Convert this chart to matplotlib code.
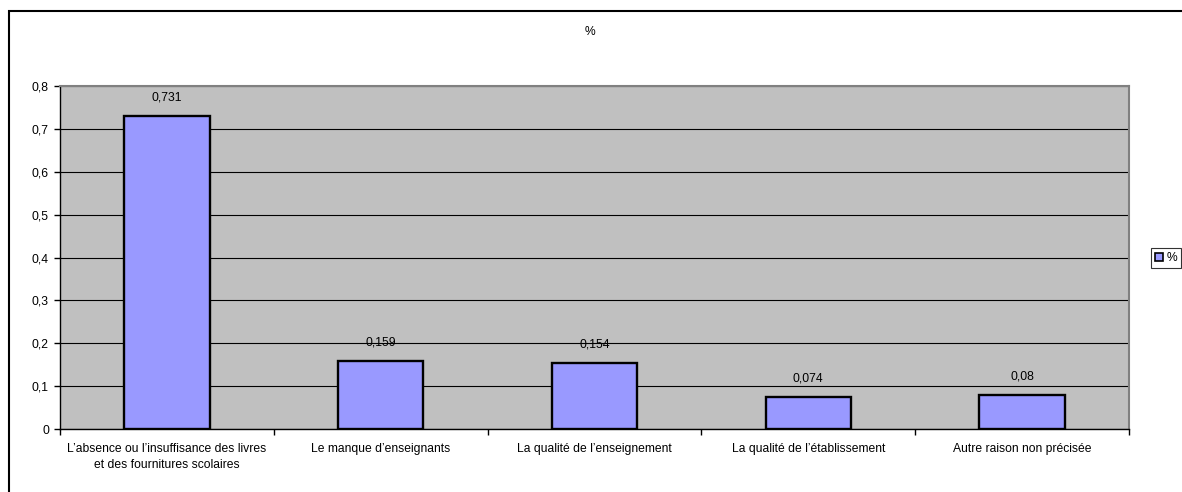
import matplotlib
matplotlib.use("Agg")
import matplotlib.pyplot as plt
from matplotlib.patches import Rectangle, Patch
from matplotlib.ticker import FuncFormatter

categories = ["L\u2019absence ou l\u2019insuffisance des livres\net des fournitures scolaires",
              "Le manque d\u2019enseignants",
              "La qualit\u00e9 de l\u2019enseignement",
              "La qualit\u00e9 de l\u2019\u00e9tablissement",
              "Autre raison non pr\u00e9cis\u00e9e"]
values = [0.731, 0.159, 0.154, 0.074, 0.08]
value_labels = ["0,731", "0,159", "0,154", "0,074", "0,08"]
series_name = "%"

FS = 8.7
plt.rcParams['font.family'] = ['Liberation Sans', 'DejaVu Sans']
W, H = 1182, 492
fig = plt.figure(figsize=(W/100, H/100), dpi=100)
fig.patch.set_facecolor('white')

# outer chart border
fig.patches.append(Rectangle((9/W, -0.2), 1.5, (H-11)/H + 0.2, transform=fig.transFigure,
                             fill=False, edgecolor='black', linewidth=1.5))

ax = fig.add_axes([60/W, (H-429)/H, (1129-60)/W, (429-86)/H])
ax.set_facecolor('#c0c0c0')
x = list(range(len(categories)))
ax.bar(x, values, width=0.4, color='#9999ff', edgecolor='black', linewidth=1.7, zorder=3)
for xi, v, lab in zip(x, values, value_labels):
    ax.annotate(lab, (xi, v), xytext=(0, 9), textcoords='offset points',
                ha='center', va='bottom', fontsize=FS)

ax.set_xlim(-0.5, len(categories) - 0.5)
ax.set_ylim(0, 0.8)
ax.set_yticks([i/10 for i in range(9)])
ax.yaxis.set_major_formatter(FuncFormatter(lambda v, p: "0" if abs(v) < 1e-9 else f"{v:.1f}".replace(".", ",")))
ax.grid(axis='y', color='black', linewidth=0.8, zorder=1)
ax.set_axisbelow(True)

ax.set_xticks(x)
ax.set_xticklabels(categories, fontsize=FS, linespacing=1.5)
ax.set_xticks([i - 0.5 for i in range(len(categories) + 1)], minor=True)
ax.tick_params(axis='x', which='major', length=0, pad=10)
ax.tick_params(axis='x', which='minor', length=4, width=1, color='black', direction='out')
ax.tick_params(axis='y', labelsize=FS, length=4, width=1, direction='out', pad=4)

for s in ['left', 'bottom']:
    ax.spines[s].set_color('black')
    ax.spines[s].set_linewidth(1)
for s in ['top', 'right']:
    ax.spines[s].set_color('#808080')
    ax.spines[s].set_linewidth(1.5)

fig.text(590/W, (H-32)/H, "%", ha='center', va='center', fontsize=FS)

leg = fig.legend(handles=[Patch(facecolor='#9999ff', edgecolor='black', linewidth=1.2, label=series_name)],
                 loc='center', bbox_to_anchor=(1166/W, (H-258)/H), fontsize=FS,
                 frameon=True, fancybox=False, handlelength=0.7, handleheight=0.7,
                 handletextpad=0.3, borderpad=0.3, borderaxespad=0)
leg.get_frame().set_edgecolor('black')
leg.get_frame().set_linewidth(0.8)

fig.savefig("out.png", dpi=100)
